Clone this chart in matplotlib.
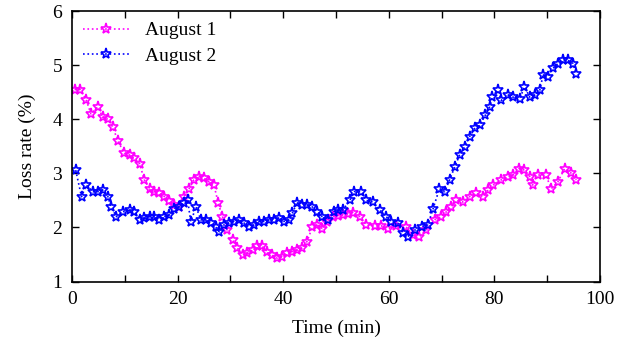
import matplotlib
matplotlib.use("Agg")
import matplotlib.pyplot as plt
from matplotlib.ticker import MultipleLocator

# August 1 (magenta)
aug1_t = [0.5, 1.6, 2.7, 3.6, 4.9, 5.8, 6.8, 7.7, 8.7, 9.9, 10.9, 11.8, 12.8, 13.7,
          14.7, 15.6, 16.5, 17.5, 18.4, 19.4, 20.3, 21.2, 22.2, 23.1, 24.1, 25.0,
          26.0, 26.9, 27.7, 28.5, 29.4, 30.4, 31.3, 32.3, 33.2, 34.2, 35.1, 36.0,
          37.0, 37.9, 38.9, 39.8, 40.8, 41.7, 42.6, 43.6, 44.5, 45.5, 46.4, 47.4,
          48.3, 49.4, 50.3, 51.3, 52.2, 53.2, 54.5, 55.7, 57.3, 58.6, 59.8, 61.4,
          63.3, 64.6, 65.8, 67.1, 68.7, 69.9, 70.9, 71.8, 72.8, 74.0, 75.3, 76.6,
          77.8, 78.8, 79.7, 81.3, 82.6, 83.5, 84.6, 85.7, 86.7, 87.3, 88.3, 89.7,
          90.8, 92.0, 93.3, 94.6, 95.5]
aug1_loss = [4.55, 4.55, 4.35, 4.1, 4.23, 4.04, 4.0, 3.86, 3.6, 3.37, 3.34, 3.28, 3.18, 2.88,
             2.72, 2.66, 2.63, 2.57, 2.48, 2.41, 2.38, 2.57, 2.72, 2.88, 2.94, 2.91,
             2.84, 2.78, 2.45, 2.2, 1.95, 1.77, 1.62, 1.49, 1.52, 1.58, 1.65, 1.65,
             1.55, 1.49, 1.43, 1.46, 1.52, 1.55, 1.58, 1.62, 1.74, 2.0, 2.05, 1.98,
             2.1, 2.2, 2.22, 2.23, 2.24, 2.26, 2.2, 2.05, 2.03, 2.03, 1.97, 2.03,
             2.0, 1.86, 1.83, 1.95, 2.14, 2.2, 2.29, 2.38, 2.5, 2.47, 2.57, 2.63,
             2.57, 2.69, 2.78, 2.88, 2.94, 2.97, 3.09, 3.06, 2.94, 2.78, 2.97, 2.97,
             2.72, 2.84, 3.09, 3.0, 2.88]

# August 2 (blue)
aug2_t = [0.7, 1.8, 2.7, 4.0, 4.9, 5.8, 6.8, 7.4, 8.4, 9.6, 10.9, 11.8, 12.8, 13.7,
          14.7, 15.6, 16.5, 17.5, 18.4, 19.4, 20.3, 21.2, 21.9, 22.5, 23.5, 24.4,
          25.3, 26.3, 27.2, 27.9, 28.8, 29.7, 30.7, 31.6, 32.6, 33.5, 34.5, 35.4,
          36.4, 37.3, 38.2, 39.2, 40.1, 41.1, 41.7, 42.6, 43.6, 44.5, 45.5, 46.4,
          47.4, 48.4, 49.6, 50.4, 51.3, 52.6, 53.5, 54.8, 55.7, 57.0, 58.3, 59.5,
          60.5, 61.7, 62.7, 63.6, 64.9, 66.2, 67.4, 68.4, 69.6, 70.6, 71.5, 72.5,
          73.4, 74.4, 75.3, 76.3, 77.2, 78.3, 79.1, 79.6, 80.7, 81.3, 82.6, 83.5,
          84.8, 85.7, 86.7, 87.6, 88.6, 89.2, 90.1, 91.1, 92.0, 92.9, 93.9, 94.9,
          95.5]
aug2_loss = [3.06, 2.57, 2.78, 2.66, 2.66, 2.69, 2.57, 2.38, 2.2, 2.29, 2.32, 2.29, 2.14, 2.17,
             2.2, 2.2, 2.14, 2.2, 2.23, 2.35, 2.38, 2.45, 2.5, 2.11, 2.38, 2.14,
             2.14, 2.08, 2.01, 1.92, 2.05, 2.08, 2.11, 2.14, 2.08, 2.01, 2.05, 2.11,
             2.11, 2.14, 2.14, 2.17, 2.11, 2.14, 2.26, 2.45, 2.42, 2.42, 2.38, 2.29,
             2.2, 2.14, 2.29, 2.32, 2.32, 2.5, 2.66, 2.66, 2.5, 2.47, 2.32, 2.2,
             2.11, 2.08, 1.89, 1.83, 1.95, 2.01, 2.05, 2.35, 2.72, 2.66, 2.88, 3.12,
             3.34, 3.49, 3.68, 3.83, 3.89, 4.08, 4.23, 4.41, 4.54, 4.35, 4.44, 4.41,
             4.38, 4.6, 4.41, 4.44, 4.54, 4.81, 4.78, 4.94, 5.03, 5.09, 5.09, 5.03,
             4.83]

plt.rcParams['font.family'] = ['Liberation Serif', 'DejaVu Serif']

fig = plt.figure(figsize=(6.25, 3.48), dpi=100)
ax = fig.add_axes([0.1152, 0.191, 0.8448, 0.777])

ax.plot(aug1_t, aug1_loss, color='#ff00ff', linestyle=':', linewidth=1.2,
        marker='*', markersize=8, markerfacecolor='none', markeredgewidth=1.2,
        label='August 1')
ax.plot(aug2_t, aug2_loss, color='#0000ff', linestyle=':', linewidth=1.2,
        marker='*', markersize=8, markerfacecolor='none', markeredgewidth=1.2,
        label='August 2')

ax.set_xlim(0, 100)
ax.set_ylim(1, 6)
ax.xaxis.set_major_locator(MultipleLocator(20))
ax.xaxis.set_minor_locator(MultipleLocator(10))
ax.yaxis.set_major_locator(MultipleLocator(1))
ax.tick_params(which='both', direction='in', top=True, right=True,
               length=5, width=1, labelsize=14, pad=7)
for s in ax.spines.values():
    s.set_linewidth(1.2)

ax.set_xlabel('Time (min)', fontsize=14, labelpad=8)
ax.set_ylabel('Loss rate (%)', fontsize=14, labelpad=12)
ax.legend(loc='upper left', frameon=False, fontsize=14, handlelength=2.4,
          borderaxespad=0.1, borderpad=0.45, labelspacing=0.4)

fig.savefig('out.png', dpi=100)
